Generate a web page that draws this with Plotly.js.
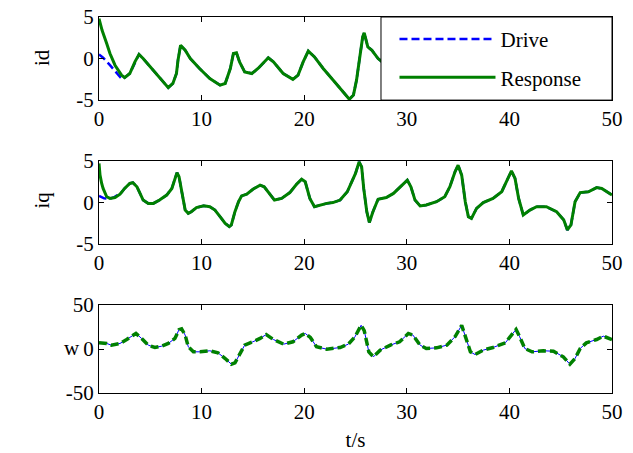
<!DOCTYPE html>
<html>
<head>
<meta charset="utf-8">
<script src="https://cdn.plot.ly/plotly-3.0.1.min.js"></script>
<style>html,body{margin:0;padding:0;background:#fff;}#chart{width:633px;height:453px;}</style>
</head>
<body>
<div id="chart"></div>
<script>
// ---- id subplot ----
const tId = [0,0.3,0.75,1.07,1.56,2.2,2.5,3.0,3.5,3.9,4.3,5.0,5.9,6.75,7.2,7.55,7.7,7.95,8.4,8.9,9.8,10.8,11.8,12.3,12.8,13.1,13.4,13.7,14.2,14.9,15.5,16.5,17.0,17.95,18.9,19.4,19.9,20.4,21.0,21.85,23.1,24.4,24.8,25.1,25.4,25.7,25.85,26.0,26.2,26.6,27.2,27.8,28.5];
const idResponse = [4.8,3.4,1.8,0.6,-0.8,-2.0,-2.3,-1.8,-0.4,0.5,0.0,-1.0,-2.4,-3.5,-3.0,-1.8,-0.2,1.6,1.0,0.0,-1.2,-2.4,-3.2,-3.0,-1.2,0.6,0.7,-0.4,-1.6,-1.8,-1.2,0.1,-0.4,-1.8,-2.5,-2.0,-0.4,0.9,0.2,-1.2,-3.0,-4.9,-4.4,-2.6,0.0,2.6,3.1,2.2,1.4,1.0,0.0,-0.6,-1.2];
const tIdDriveStart = [0,0.4,1.07,1.56,2.05];
const idDriveStart = [0.5,0.1,-0.8,-1.5,-2.2];

// ---- iq subplot ----
const tIq = [0,0.1,0.26,0.4,0.75,1.07,1.56,2.05,2.5,3.0,3.3,3.7,4.0,4.3,4.8,5.3,5.9,6.6,7.1,7.4,7.6,7.8,8.05,8.4,8.7,9.0,9.5,10.2,10.8,11.3,11.8,12.3,12.7,12.9,13.25,13.6,13.9,14.4,15.0,15.7,16.1,16.5,17.1,17.8,18.6,19.25,19.75,20.1,20.55,21.0,21.5,22.2,22.8,23.5,24.2,24.6,25.0,25.35,25.6,25.8,26.1,26.35,26.7,27.2,28.0,28.7,29.5,30.05,30.4,30.8,31.3,31.9,32.9,33.7,34.2,34.7,35.0,35.35,35.7,36.0,36.3,36.8,37.45,38.4,39.25,39.7,40.2,40.55,40.9,41.35,42.0,42.65,43.6,44.6,45.3,45.65,46.0,46.4,46.9,47.7,48.5,49.0,50];
const iqResponse = [4.7,3.3,2.3,1.7,0.7,0.5,0.6,1.0,1.7,2.3,2.4,1.9,1.1,0.3,-0.1,-0.1,0.3,0.9,1.7,2.9,3.6,3.1,1.3,-0.9,-1.3,-1.1,-0.6,-0.4,-0.5,-0.9,-1.7,-2.5,-2.9,-2.7,-1.1,0.1,0.8,1.0,1.6,2.1,1.9,1.2,0.3,0.5,1.2,2.2,2.8,2.5,0.5,-0.5,-0.3,-0.1,0.0,0.3,1.3,2.3,3.5,4.9,4.3,1.7,-1.1,-2.4,-1.1,0.4,0.6,1.1,2.1,2.7,1.9,0.3,-0.4,-0.3,0.1,0.7,1.9,3.7,4.5,3.3,0.1,-1.7,-1.9,-0.7,0.0,0.5,1.3,2.5,3.8,2.9,0.5,-1.5,-0.9,-0.5,-0.5,-1.1,-2.1,-3.3,-2.7,0.1,1.2,1.3,1.8,1.7,0.9];
const tIqDriveStart = [0,0.5,1.0,1.5,2.0];
const iqDriveStart = [0.8,0.5,0.45,0.65,1.05];

// ---- w subplot ----
const tW = [0,0.75,1.2,2.05,2.7,3.2,3.6,4.15,4.8,5.45,6.1,6.75,7.4,7.8,8.05,8.4,8.7,9.2,9.85,10.8,11.6,12.3,12.9,13.25,13.7,14.2,15.0,15.7,16.3,17.0,18.0,18.9,19.75,20.1,20.6,21.2,22.2,23.5,24.3,24.95,25.55,25.85,26.3,26.75,27.4,28.4,29.3,30.15,30.6,31.3,31.9,32.9,33.9,34.7,35.35,35.8,36.2,36.65,37.45,38.4,39.6,40.2,40.65,41.0,41.5,42.2,43.3,44.3,45.25,45.9,46.4,46.9,47.5,48.5,49.15,50];
const wResponse = [7,6.3,4.4,6.3,10.8,14.6,17.7,12,4.4,1.7,3.2,6.3,12,22,23,15.8,2.5,-3.2,-3.2,-2,-4.4,-10.8,-17.3,-15.8,-7,4.4,8.2,12,16.5,10.8,5.5,8.2,15.8,17.7,13.1,2.5,-0.2,1.7,5.5,13.9,27,21,-3.2,-8.9,-1.3,4.4,8.2,17.7,15.8,4.4,0.6,1.3,4.4,13.9,27,10,-3.2,-6.3,-1.3,1.7,7,15.8,22.2,13.9,0.6,-3.2,-2,-2.5,-8.9,-17.3,-10.8,0.6,7,10.8,14.6,10.8];
const wDrive = wResponse.slice();

// ---- labels ----
const xTicks = [0,10,20,30,40,50];
const iTicks = [-5,0,5];
const wTicks = [-50,0,50];
const seriesNames = ['Drive','Response'];
const yLabels = ['id','iq','w'];
const xLabel = 't/s';

// drive = its own start, then identical to response after synchronisation
function driveFrom(tStart, vStart, t, v) {
  const last = tStart[tStart.length-1];
  const tt = tStart.slice(), vv = vStart.slice();
  for (let i=0;i<t.length;i++) if (t[i] > last) { tt.push(t[i]); vv.push(v[i]); }
  return [tt, vv];
}
const [tIdDrive, idDrive] = driveFrom(tIdDriveStart, idDriveStart, tId, idResponse);
const [tIqDrive, iqDrive] = driveFrom(tIqDriveStart, iqDriveStart, tIq, iqResponse);

const BLUE = 'rgb(0,0,255)', GREEN = 'rgb(0,128,0)';
const FONT = 'Liberation Serif, Times New Roman, serif';

const traces = [
  {x:tIdDrive, y:idDrive, xaxis:'x', yaxis:'y', mode:'lines', name:seriesNames[0], legendgroup:'a',
   line:{color:BLUE, width:2.5, dash:'8px,4px'}},
  {x:tId, y:idResponse, xaxis:'x', yaxis:'y', mode:'lines', name:seriesNames[1], legendgroup:'b',
   line:{color:GREEN, width:3}},
  {x:tIqDrive, y:iqDrive, xaxis:'x2', yaxis:'y2', mode:'lines', showlegend:false,
   line:{color:BLUE, width:2.5, dash:'8px,4px'}},
  {x:tIq, y:iqResponse, xaxis:'x2', yaxis:'y2', mode:'lines', showlegend:false,
   line:{color:GREEN, width:3}},
  {x:tW, y:wDrive, xaxis:'x3', yaxis:'y3', mode:'lines', showlegend:false,
   line:{color:BLUE, width:1}},
  {x:tW, y:wResponse, xaxis:'x3', yaxis:'y3', mode:'lines', showlegend:false,
   line:{color:GREEN, width:3.5, dash:'8px,4px'}}
];

function xax(anchor, title) {
  const a = {anchor:anchor, range:[0,50], tickvals:xTicks, ticktext:xTicks.map(String),
    ticks:'inside', ticklen:5, tickcolor:'#000', mirror:'ticks', showline:true, linecolor:'#000', linewidth:1,
    showgrid:false, zeroline:false, tickfont:{family:FONT, size:21, color:'#000'}};
  if (title) a.title = {text:title, font:{family:FONT, size:21, color:'#000'}, standoff:9};
  return a;
}
function yax(anchor, domain, ticks) {
  return {anchor:anchor, domain:domain, range:[ticks[0], ticks[2]], tickvals:ticks, ticktext:ticks.map(String),
    ticks:'inside', ticklen:5, tickcolor:'#000', mirror:'ticks', showline:true, linecolor:'#000', linewidth:1,
    showgrid:false, zeroline:false, tickfont:{family:FONT, size:21, color:'#000'}};
}

const layout = {
  width:633, height:453,
  margin:{l:99, r:21, t:17, b:60},
  paper_bgcolor:'#fff', plot_bgcolor:'#fff',
  font:{family:FONT, size:21, color:'#000'},
  xaxis: xax('y'),
  yaxis: yax('x', [0.779,1], iTicks),
  xaxis2: xax('y2'),
  yaxis2: yax('x2', [0.396,0.617], iTicks),
  xaxis3: xax('y3', xLabel),
  yaxis3: yax('x3', [0,0.234], wTicks),
  showlegend:true,
  legend:{x:0.576, y:0.995, xanchor:'left', yanchor:'top', bgcolor:'rgba(0,0,0,0)', borderwidth:0,
    itemwidth:96, traceorder:'grouped', tracegroupgap:8, font:{family:FONT, size:21, color:'#000'}},
  shapes:[{type:'rect', xref:'paper', yref:'paper', x0:0.5497, x1:1, y0:0.779, y1:1,
    fillcolor:'#fff', line:{color:'#000', width:1}, layer:'above'}],
  annotations:[
    {text:yLabels[0], xref:'paper', yref:'paper', x:-0.111, y:0.891, xanchor:'center', yanchor:'middle', textangle:-90, showarrow:false,
     font:{family:FONT, size:21, color:'#000'}},
    {text:yLabels[1], xref:'paper', yref:'paper', x:-0.111, y:0.512, xanchor:'center', yanchor:'middle', textangle:-90, showarrow:false,
     font:{family:FONT, size:21, color:'#000'}},
    {text:yLabels[2], xref:'paper', yref:'paper', x:-0.052, y:0.12, xanchor:'center', yanchor:'middle', textangle:0, showarrow:false,
     font:{family:FONT, size:21, color:'#000'}}
  ]
};

Plotly.newPlot('chart', traces, layout, {displayModeBar:false, staticPlot:true});
</script>
</body>
</html>
